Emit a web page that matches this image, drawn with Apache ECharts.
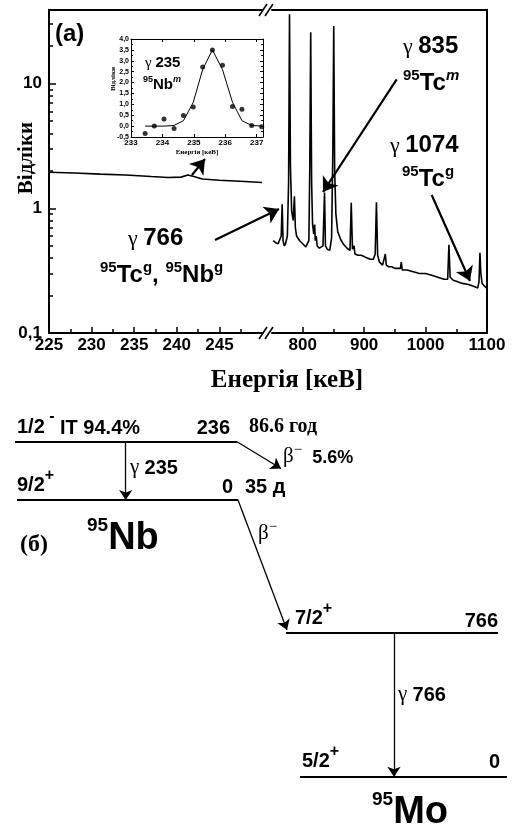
<!DOCTYPE html>
<html><head><meta charset="utf-8">
<script src="https://cdn.jsdelivr.net/npm/echarts@6/dist/echarts.min.js"></script>
<style>html,body{margin:0;padding:0;background:#fff}#c{width:513px;height:830px}</style>
</head><body><div id="c"></div>
<script>
// ---------- spectrum (a), low-energy segment ----------
const lowEnergy = [225,228,231,234,237,239,240.5,241.3,242,243,245,248,250];
const lowCounts = [1.95,1.92,1.88,1.85,1.8,1.77,1.78,1.85,1.8,1.72,1.68,1.64,1.61];
// ---------- spectrum (a), high-energy segment ----------
const highEnergy = [752,756,760,763,765,766.5,768,770,772,775,777,778.5,780,782,784.5,786.5,788,790,795,800,805,808,810,811.5,813,814.5,816,818,819.5,820.5,822,823.5,827,830,833,835.5,837,840,844,847,849,850.5,852,854,857,862,867,872,877,879,881,883.5,885,890,895,900,905,910,915,918,920,922,925,930,932.5,934.5,936,940,945,950,955,959,960.5,962,970,980,990,1000,1010,1020,1030,1036,1038,1040,1045,1050,1060,1070,1080,1085,1087,1088.5,1090,1092,1095,1099,1100];
const highCounts = [0.55,0.53,0.52,0.52,0.6,1.08,0.55,0.5,0.52,0.6,1.6,36,2.2,0.95,0.8,1.25,0.7,0.6,0.55,0.52,0.49,0.48,0.55,2.2,25.8,1.6,0.75,0.62,0.74,0.55,0.6,0.5,0.48,0.47,0.5,1.34,0.5,0.47,0.46,0.58,2.8,29,2.0,0.9,0.65,0.56,0.51,0.48,0.46,1.11,0.47,0.5,0.43,0.42,0.42,0.41,0.4,0.39,0.39,0.43,1.12,0.42,0.37,0.35,0.35,0.43,0.35,0.34,0.34,0.33,0.33,0.33,0.37,0.32,0.32,0.31,0.3,0.3,0.29,0.28,0.27,0.27,0.51,0.28,0.265,0.26,0.25,0.245,0.235,0.23,0.26,0.44,0.3,0.25,0.24,0.23,0.23];
// ---------- inset: gamma 235 peak ----------
const insetEnergy = [233.45,233.74,234.05,234.37,234.67,234.98,235.28,235.59,235.91,236.23,236.53,236.84,237.16];
const insetCounts = [-0.34,0.0,0.33,-0.11,0.49,0.88,2.71,3.5,2.79,0.9,0.77,0.03,-0.03];
const insetFit    = [0,0,0,0.03,0.25,1.09,2.6,3.5,2.6,1.09,0.25,0.03,0];
// ---------- tick values ----------
const lowMajorTicks = [225,230,235,240,245];
const lowMinorTicks = [227.5,232.5,237.5,242.5,247.5];
const highMajorTicks = [800,900,1000,1100];
const highMinorTicks = [850,950,1050];
const yMajorTicks = [0.1,1,10];
const yMinorTicks = [0.2,0.3,0.4,0.5,0.6,0.7,0.8,0.9,2,3,4,5,6,7,8,9,20,30];
const insetXTicks = [233,234,235,236,237];

// ---------- decay scheme (b), schematic units ----------
const schemeLevels = [
  [[15,441.7],[237,441.7]],   // 95Nb 1/2- 236
  [[17,500],[238,500]],       // 95Nb 9/2+ 0
  [[286,632.3],[498,632.3]],  // 95Mo 7/2+ 766
  [[300,776.7],[507,776.7]]   // 95Mo 5/2+ 0
];
const schemeTransitions = [
  [[125.7,441.7],[125.7,500]],  // gamma 235 (IT)
  [[237,441.7],[281,468.5]],    // beta- 5.6%
  [[238,500],[287,630]],        // beta- to 766
  [[394,632.3],[394,776.7]]     // gamma 766
];
const spectrumArrows = [
  [[396.7,79.3],[323,192]],   // 835
  [[215,240],[279,209]],      // 766
  [[431.7,195],[470,281]],    // 1074
  [[192,175],[205,159]]       // 235 bump
];
const breakMarks = [
  [[259,16],[267,4]],[[265,16],[273,4]],
  [[259,339],[267,327]],[[265,339],[273,327]]
];

const SANS = '"Liberation Sans", Arial, sans-serif';
const SERIF = '"Liberation Serif", "Times New Roman", serif';
const zip = (a,b) => a.map((v,i)=>[v,b[i]]);
const toLines = arr => arr.map(c => ({coords:c}));
const comma = v => String(v).replace('.', ',');

function txt(x, y, text, rich, align, extra) {
  return Object.assign({type:'text', x:x, y:y, z:100, silent:true,
    style:Object.assign({text:text, rich:rich||{}, align:align||'left', verticalAlign:'middle',
      fill:'#000', fontFamily:SANS, fontWeight:'bold', fontSize:20}, extra||{})});
}
const richA = {
  g:{fontFamily:SERIF, fontWeight:'normal', fontSize:22, lineHeight:27, verticalAlign:'bottom', fill:'#000'},
  n:{fontFamily:SANS, fontWeight:'bold', fontSize:24, lineHeight:27, verticalAlign:'bottom', fill:'#000'},
  s:{fontFamily:SANS, fontWeight:'bold', fontSize:15, verticalAlign:'top', fill:'#000'},
  si:{fontFamily:SANS, fontWeight:'bold', fontStyle:'italic', fontSize:15, verticalAlign:'top', fill:'#000'}
};
const richI = {
  g:{fontFamily:SERIF, fontWeight:'normal', fontSize:15, lineHeight:17, verticalAlign:'bottom', fill:'#000'},
  n:{fontFamily:SANS, fontWeight:'bold', fontSize:15, lineHeight:17, verticalAlign:'bottom', fill:'#000'},
  s:{fontFamily:SANS, fontWeight:'bold', fontSize:9, verticalAlign:'top', fill:'#000'},
  si:{fontFamily:SANS, fontWeight:'bold', fontStyle:'italic', fontSize:9, verticalAlign:'top', fill:'#000'}
};
const richB = {
  g:{fontFamily:SERIF, fontWeight:'normal', fontSize:21, lineHeight:24, verticalAlign:'bottom', fill:'#000'},
  gs:{fontFamily:SERIF, fontWeight:'normal', fontSize:15, verticalAlign:'top', fill:'#000'},
  n:{fontFamily:SANS, fontWeight:'bold', fontSize:20, lineHeight:24, verticalAlign:'bottom', fill:'#000'},
  m:{fontFamily:SANS, fontWeight:'bold', fontSize:18, lineHeight:24, verticalAlign:'bottom', fill:'#000'},
  N:{fontFamily:SANS, fontWeight:'bold', fontSize:38, lineHeight:42, verticalAlign:'bottom', fill:'#000'},
  S:{fontFamily:SANS, fontWeight:'bold', fontSize:19, verticalAlign:'top', fill:'#000'}
};
const richL = {
  n:{fontFamily:SANS, fontWeight:'bold', fontSize:20, lineHeight:27, verticalAlign:'bottom', fill:'#000'},
  s:{fontFamily:SANS, fontWeight:'bold', fontSize:16, verticalAlign:'top', fill:'#000'}
};
const richL2 = {
  n:{fontFamily:SANS, fontWeight:'bold', fontSize:20, lineHeight:28, verticalAlign:'bottom', fill:'#000'},
  s:{fontFamily:SANS, fontWeight:'bold', fontSize:16, verticalAlign:'top', fill:'#000'}
};

const BL = {color:'#000', width:2};
function frameAxis(grid, pos, type, min, max, extra) {
  return Object.assign({gridIndex:grid, type:type, position:pos, min:min, max:max,
    axisLine:{show:true, onZero:false, lineStyle:BL}, axisTick:{show:false},
    axisLabel:{show:false}, splitLine:{show:false}}, extra||{});
}
function tickAxis(grid, pos, type, min, max, ticks, len, width) {
  return {gridIndex:grid, type:type, position:pos, min:min, max:max,
    axisLine:{show:false, onZero:false},
    axisTick:{show:true, inside:true, length:len, customValues:ticks, lineStyle:{color:'#000', width:width}},
    axisLabel:{show:false}, splitLine:{show:false}};
}
const tickFont = {fontFamily:SANS, fontWeight:'bold', fontSize:17, color:'#000'};

const option = {
  animation:false,
  backgroundColor:'#fff',
  grid:[
    {left:49, top:10, width:213, height:323},
    {left:272, top:10, width:215, height:323},
    {left:131, top:39, width:132, height:98, show:true, backgroundColor:'#fff', borderWidth:0},
    {left:0, top:0, width:513, height:830}
  ],
  xAxis:[
    // 0 low segment bottom
    frameAxis(0,'bottom','value',225,250,{
      axisTick:{show:true, inside:true, length:6, customValues:lowMajorTicks, lineStyle:{color:'#000', width:1.5}},
      axisLabel:{show:true, customValues:lowMajorTicks, margin:4, formatter:v=>String(v), ...tickFont}
    }),
    // 1 low segment minor ticks
    tickAxis(0,'bottom','value',225,250,lowMinorTicks,4,1.5),
    // 2 low segment top line
    frameAxis(0,'top','value',225,250),
    // 3 high segment bottom
    frameAxis(1,'bottom','value',750,1100,{
      axisTick:{show:true, inside:true, length:6, customValues:highMajorTicks, lineStyle:{color:'#000', width:1.5}},
      axisLabel:{show:true, customValues:highMajorTicks, margin:4, formatter:v=>String(v), ...tickFont},
      name:'Енергія [кеВ]', nameLocation:'middle', nameGap:35, nameMoveOverlap:false,
      nameTextStyle:{fontFamily:SERIF, fontWeight:'bold', fontSize:25, color:'#000', padding:[0,185,0,0]}
    }),
    // 4 high segment minor ticks
    tickAxis(1,'bottom','value',750,1100,highMinorTicks,4,1.5),
    // 5 high segment top line
    frameAxis(1,'top','value',750,1100),
    // 6 inset bottom
    {gridIndex:2, type:'value', position:'bottom', min:233, max:237.2,
      axisLine:{show:true, onZero:false, lineStyle:{color:'#000', width:1}},
      axisTick:{show:true, inside:true, length:3, customValues:insetXTicks, lineStyle:{color:'#000', width:1}},
      axisLabel:{show:true, customValues:insetXTicks, margin:2, fontFamily:SANS, fontWeight:'bold', fontSize:8, color:'#000'},
      splitLine:{show:false},
      name:'Енергія [кеВ]', nameLocation:'middle', nameGap:12, nameMoveOverlap:false,
      nameTextStyle:{fontFamily:SERIF, fontWeight:'bold', fontSize:7, color:'#000'}},
    // 7 inset top
    {gridIndex:2, type:'value', position:'top', min:233, max:237.2,
      axisLine:{show:true, onZero:false, lineStyle:{color:'#000', width:1}},
      axisTick:{show:true, inside:true, length:3, customValues:insetXTicks, lineStyle:{color:'#000', width:1}},
      axisLabel:{show:false}, splitLine:{show:false}},
    // 8 overlay
    {gridIndex:3, type:'value', min:0, max:513, show:false}
  ],
  yAxis:[
    // 0 left log axis
    frameAxis(0,'left','log',0.1,39,{
      logBase:10,
      axisTick:{show:true, inside:true, length:7, customValues:yMajorTicks, lineStyle:{color:'#000', width:1.5}},
      axisLabel:{show:true, customValues:yMajorTicks, margin:7, formatter:v=>comma(v), ...tickFont},
      name:'Відліки', nameLocation:'middle', nameGap:12, nameMoveOverlap:false,
      nameTextStyle:{fontFamily:SERIF, fontWeight:'bold', fontSize:21, color:'#000', padding:[0,0,0,27]}
    }),
    // 1 left minor ticks
    Object.assign(tickAxis(0,'left','log',0.1,39,yMinorTicks,4,1.5),{logBase:10}),
    // 2 right log axis (frame only)
    frameAxis(1,'right','log',0.1,39,{logBase:10}),
    // 3 inset left
    {gridIndex:2, type:'value', position:'left', min:-0.5, max:4, interval:0.5,
      axisLine:{show:true, onZero:false, lineStyle:{color:'#000', width:1}},
      axisTick:{show:true, inside:true, length:3, lineStyle:{color:'#000', width:1}},
      minorTick:{show:true, splitNumber:2, length:2, lineStyle:{color:'#000', width:1}},
      axisLabel:{show:true, margin:2, formatter:v=>v.toFixed(1).replace('.',','), fontFamily:SANS, fontWeight:'bold', fontSize:7, color:'#000'},
      splitLine:{show:false},
      name:'Відліки', nameLocation:'middle', nameGap:14, nameMoveOverlap:false,
      nameTextStyle:{fontFamily:SERIF, fontWeight:'bold', fontSize:7, color:'#000', padding:[0,0,0,18]}},
    // 4 inset right
    {gridIndex:2, type:'value', position:'right', min:-0.5, max:4, interval:0.5,
      axisLine:{show:true, onZero:false, lineStyle:{color:'#000', width:1}},
      axisTick:{show:true, inside:true, length:3, lineStyle:{color:'#000', width:1}},
      minorTick:{show:true, splitNumber:2, length:2, lineStyle:{color:'#000', width:1}},
      axisLabel:{show:false}, splitLine:{show:false}},
    // 5 overlay
    {gridIndex:3, type:'value', min:0, max:830, inverse:true, show:false}
  ],
  series:[
    {type:'line', xAxisIndex:0, yAxisIndex:0, data:zip(lowEnergy, lowCounts), showSymbol:false,
      lineStyle:{color:'#000', width:1.6}, clip:true},
    {type:'line', xAxisIndex:3, yAxisIndex:2, data:zip(highEnergy, highCounts), showSymbol:false,
      lineStyle:{color:'#000', width:1.6}, clip:true},
    {type:'line', xAxisIndex:6, yAxisIndex:3, data:zip(insetEnergy, insetFit), showSymbol:false,
      lineStyle:{color:'#000', width:1}},
    {type:'scatter', xAxisIndex:6, yAxisIndex:3, data:zip(insetEnergy, insetCounts), symbol:'circle', symbolSize:5,
      itemStyle:{color:'#000'}, clip:false},
    {type:'lines', coordinateSystem:'cartesian2d', xAxisIndex:8, yAxisIndex:5, data:toLines(schemeLevels),
      symbol:['none','none'], lineStyle:{color:'#000', width:2, opacity:1}, z:20},
    {type:'lines', coordinateSystem:'cartesian2d', xAxisIndex:8, yAxisIndex:5, data:toLines(breakMarks),
      symbol:['none','none'], lineStyle:{color:'#000', width:1.6, opacity:1}, z:20},
    {type:'lines', coordinateSystem:'cartesian2d', xAxisIndex:8, yAxisIndex:5, data:toLines(schemeTransitions),
      symbol:['none','arrow'], symbolSize:[6,10], lineStyle:{color:'#000', width:1.3, opacity:1}, z:20},
    {type:'lines', coordinateSystem:'cartesian2d', xAxisIndex:8, yAxisIndex:5, data:toLines(spectrumArrows),
      symbol:['none','arrow'], symbolSize:[9,14], lineStyle:{color:'#000', width:2.2, opacity:1}, z:20}
  ],
  graphic:[
    txt(55, 34, '(a)', null, 'left', {fontSize:24}),
    txt(403, 45, '{g|γ }{n|835}', richA),
    txt(403, 82, '{s|95}{n|Tc}{si|m}', richA),
    txt(390, 144, '{g|γ }{n|1074}', richA),
    txt(402, 178, '{s|95}{n|Tc}{s|g}', richA),
    txt(128, 237, '{g|γ }{n|766}', richA),
    txt(100, 274, '{s|95}{n|Tc}{s|g}{n|, }{s|95}{n|Nb}{s|g}', richA),
    txt(145, 62, '{g|γ }{n|235}', richI),
    txt(143, 84, '{s|95}{n|Nb}{si|m}', richI),
    // scheme (b)
    txt(17, 423, '{n|1/2}{s| -}', richL2),
    txt(60, 428, 'IT 94.4%', null, 'left'),
    txt(230, 428, '236', null, 'right'),
    txt(249, 427, '86.6 год', null, 'left', {fontFamily:SERIF, fontSize:20}),
    txt(283, 455, '{g|β}{gs|−}{m|  5.6%}', richB),
    txt(130, 466, '{g|γ }{n|235}', richB),
    txt(17, 481.5, '{n|9/2}{s|+}', richL),
    txt(233, 487, '0', null, 'right'),
    txt(245, 487, '35 д', null, 'left'),
    txt(20, 545, '(б)', null, 'left', {fontFamily:SERIF, fontSize:24}),
    txt(87, 537, '{S|95}{N|Nb}', richB),
    txt(258, 532, '{g|β}{gs|−}', richB),
    txt(295, 614.5, '{n|7/2}{s|+}', richL),
    txt(498, 621, '766', null, 'right'),
    txt(398, 693, '{g|γ }{n|766}', richB),
    txt(302, 757.5, '{n|5/2}{s|+}', richL),
    txt(500, 762, '0', null, 'right'),
    txt(372, 811, '{S|95}{N|Mo}', richB)
  ]
};
const chart = echarts.init(document.getElementById('c'), null, {renderer:'canvas'});
chart.setOption(option);
</script>
</body></html>
